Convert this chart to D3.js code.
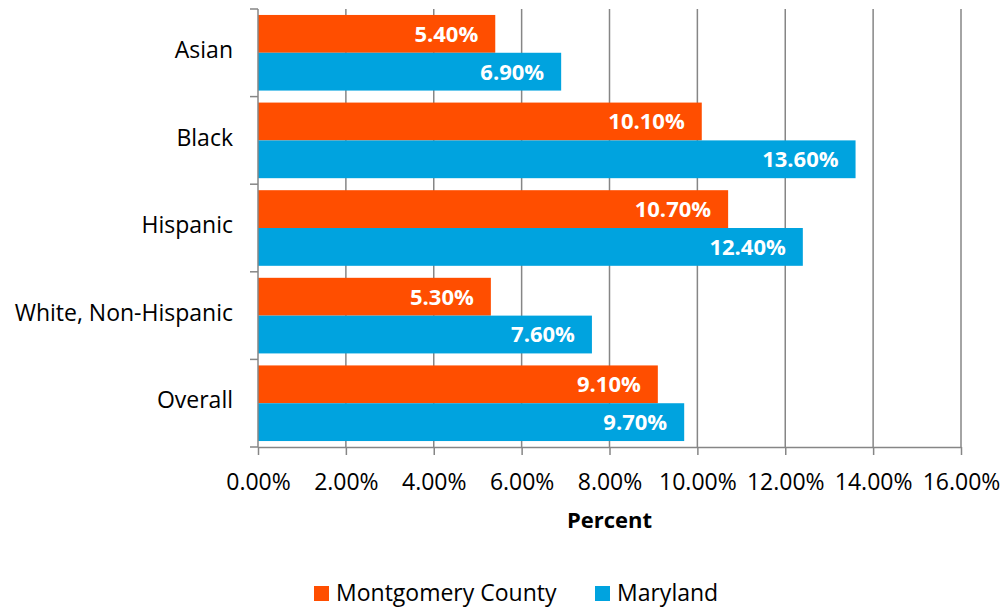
<!DOCTYPE html>
<html>
<head>
<meta charset="utf-8">
<script src="https://cdn.jsdelivr.net/npm/d3@7"></script>
<style>
  body { margin: 0; background: #fff; }
  text { font-family: "Open Sans", sans-serif; }
</style>
</head>
<body>
<div id="chart"></div>
<script>
var categories = ["Asian", "Black", "Hispanic", "White, Non-Hispanic", "Overall"];
var seriesNames = ["Montgomery County", "Maryland"];
var montgomery = [5.4, 10.1, 10.7, 5.3, 9.1];
var maryland = [6.9, 13.6, 12.4, 7.6, 9.7];
var xTicks = [0, 2, 4, 6, 8, 10, 12, 14, 16];

var margin = { top: 9, right: 45, bottom: 161, left: 258 },
    width = 1006 - margin.left - margin.right,
    height = 608 - margin.top - margin.bottom;

var colors = ["#FF4E00", "#00A3DF"];

var svg = d3.select("#chart").append("svg")
    .attr("width", 1006)
    .attr("height", 608)
    .append("g")
    .attr("transform", "translate(" + margin.left + "," + margin.top + ")");

var x = d3.scaleLinear().domain([0, 16]).range([0, width]);
var y = d3.scaleBand().domain(categories).range([0, height]).paddingInner(0.137).paddingOuter(0.068);
var yOuter = d3.scaleBand().domain(categories).range([0, height]);
var ySub = d3.scaleBand().domain([0, 1]).range([0, y.bandwidth()]);

// gridlines
svg.append("g")
    .selectAll("line")
    .data(xTicks.slice(1))
    .enter().append("line")
    .attr("x1", function (d) { return x(d); })
    .attr("x2", function (d) { return x(d); })
    .attr("y1", 0)
    .attr("y2", height)
    .attr("stroke", "#868686")
    .attr("stroke-width", 1.5);

var data = [];
categories.forEach(function (c, i) {
    data.push({ cat: c, s: 0, v: montgomery[i] });
    data.push({ cat: c, s: 1, v: maryland[i] });
});

svg.append("g").selectAll("rect")
    .data(data)
    .enter().append("rect")
    .attr("x", 0)
    .attr("y", function (d) { return y(d.cat) + ySub(d.s); })
    .attr("width", function (d) { return x(d.v); })
    .attr("height", ySub.bandwidth())
    .attr("fill", function (d) { return colors[d.s]; });

svg.append("g").selectAll("text")
    .data(data)
    .enter().append("text")
    .attr("x", function (d) { return x(d.v) - 17; })
    .attr("y", function (d) { return y(d.cat) + ySub(d.s) + ySub.bandwidth() / 2; })
    .attr("dy", "0.36em")
    .attr("text-anchor", "end")
    .attr("fill", "#fff")
    .style("font-size", "22px")
    .style("font-weight", "bold")
    .text(function (d) { return d.v.toFixed(2) + "%"; });

// x axis
var xAxis = svg.append("g")
    .attr("transform", "translate(0," + height + ")")
    .call(d3.axisBottom(x).tickValues(xTicks).tickSize(8).tickSizeOuter(0)
        .tickFormat(function (d) { return d.toFixed(2) + "%"; }));
xAxis.select(".domain").attr("stroke", "#868686").attr("stroke-width", 1.5);
xAxis.selectAll(".tick line").attr("stroke", "#868686").attr("stroke-width", 1.5);
xAxis.selectAll(".tick text").attr("y", 35).attr("dy", "0.36em").attr("fill", "#000").style("font-size", "23px");

// y axis with ticks at band boundaries
var yAxis = svg.append("g");
yAxis.append("line")
    .attr("x1", 0).attr("x2", 0).attr("y1", 0).attr("y2", height)
    .attr("stroke", "#868686").attr("stroke-width", 1.5);
yAxis.selectAll(".bt")
    .data(categories.concat(["end"]))
    .enter().append("line")
    .attr("x1", -8).attr("x2", 0)
    .attr("y1", function (d, i) { return i < categories.length ? yOuter(d) : height; })
    .attr("y2", function (d, i) { return i < categories.length ? yOuter(d) : height; })
    .attr("stroke", "#868686").attr("stroke-width", 1.5);
yAxis.selectAll(".cl")
    .data(categories)
    .enter().append("text")
    .attr("x", -25)
    .attr("y", function (d) { return yOuter(d) + yOuter.bandwidth() / 2 - 3; })
    .attr("dy", "0.36em")
    .attr("text-anchor", "end")
    .style("font-size", "23px")
    .text(function (d) { return d; });

svg.append("text")
    .attr("x", width / 2)
    .attr("y", height + 73)
    .attr("dy", "0.36em")
    .attr("text-anchor", "middle")
    .style("font-size", "22px")
    .style("font-weight", "bold")
    .text("Percent");

// legend
var legend = d3.select("svg").append("g");
var legX = [314, 595];
seriesNames.forEach(function (n, i) {
    legend.append("rect").attr("x", legX[i]).attr("y", 586).attr("width", 15).attr("height", 15).attr("fill", colors[i]);
    legend.append("text").attr("x", legX[i] + 22).attr("y", 593).attr("dy", "0.36em")
        .style("font-size", "23px").text(n);
});
</script>
</body>
</html>
